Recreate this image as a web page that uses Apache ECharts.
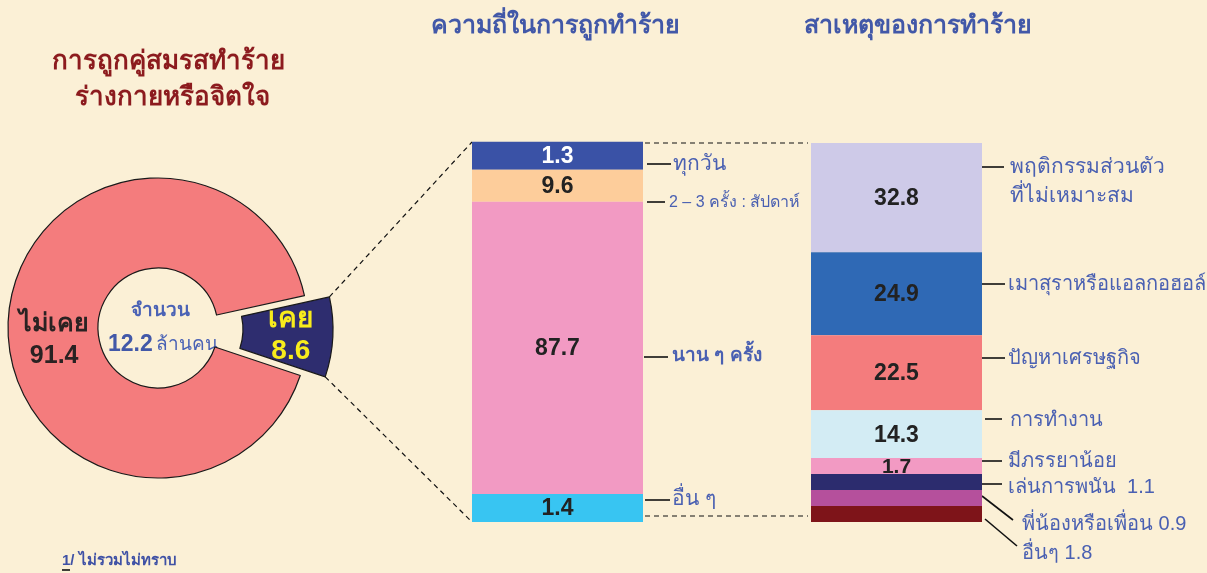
<!DOCTYPE html>
<html><head><meta charset="utf-8">
<script src="https://cdn.jsdelivr.net/npm/echarts@6/dist/echarts.min.js"></script>
<style>html,body{margin:0;padding:0;background:#FBF0D6;}#c{width:1207px;height:573px;}</style>
</head><body><div id="c"></div>
<script>
// ---- data ----
const donutNames = ['เคย', 'ไม่เคย'];
const donutValues = [8.6, 91.4];
const freqCats = ['ทุกวัน', '2 – 3 ครั้ง : สัปดาห์', 'นาน ๆ ครั้ง', 'อื่น ๆ'];
const freqValues = [1.3, 9.6, 87.7, 1.4];
const causeCats = ['พฤติกรรมส่วนตัว\nที่ไม่เหมาะสม', 'เมาสุราหรือแอลกอฮอล์', 'ปัญหาเศรษฐกิจ', 'การทำงาน', 'มีภรรยาน้อย', 'เล่นการพนัน', 'พี่น้องหรือเพื่อน', 'อื่นๆ'];
const causeValues = [32.8, 24.9, 22.5, 14.3, 1.7, 1.1, 0.9, 1.8];

// ---- styles ----
const FONT = '"Liberation Sans", Arial, "Noto Sans", sans-serif';
const freqColors = ['#3A52A6', '#FDCD9B', '#F29AC3', '#38C5F2'];
const freqLabelColors = ['#ffffff', '#222', '#222', '#222'];
const freqInside = [true, true, true, true];
const causeColors = ['#CECAE8', '#2F69B5', '#F47C7D', '#D3ECF4', '#F29AC3', '#2C2C6E', '#B5509C', '#7E1419'];
const causeLabelColors = causeColors.map(() => '#222');
const causeInside = [true, true, true, true, true, false, false, false];
const labelBlue = '#4A60B2';

const chart = echarts.init(document.getElementById('c'), null, {renderer: 'canvas'});

const pieCenter = [158, 328], pieR = [60, 150], pieOffset = 25;
const navyMid = -3;
const startAngle = navyMid + donutValues[0] / (donutValues[0] + donutValues[1]) * 360 / 2;

// stacked column drawn through the axis scales; small segments get a minimum pixel height
function stackColumn(vals, colors, labelColors, inside, gridIdx, minH, fs) {
  return {
    type: 'custom', coordinateSystem: 'cartesian2d', xAxisIndex: gridIdx, yAxisIndex: gridIdx,
    data: vals.map((v, i) => [0, v, i]),
    encode: {x: 0, y: 1},
    renderItem: function (params, api) {
      const i = params.dataIndex;
      const h = vals.map(v => Math.max(api.size([0, v])[1], minH));
      const base = api.coord([0, 0]);
      const bw = api.size([1, 0])[0];
      let below = 0;
      for (let j = i + 1; j < vals.length; j++) below += h[j];
      const yTop = base[1] - below - h[i];
      const children = [{
        type: 'rect', shape: {x: base[0] - bw / 2, y: yTop, width: bw, height: h[i]},
        style: {fill: colors[i]}
      }];
      if (inside[i]) {
        children.push({
          type: 'text', style: {text: String(vals[i]), x: base[0], y: yTop + h[i] / 2 + 1,
            align: 'center', verticalAlign: 'middle', fill: labelColors[i],
            fontFamily: FONT, fontWeight: 'bold', fontSize: h[i] < 20 ? 21 : fs}
        });
      }
      return {type: 'group', children: children};
    }
  };
}

const option = {
  backgroundColor: '#FBF0D6',
  animation: false,
  grid: [
    {left: 472, width: 171, top: 142, bottom: 51},
    {left: 811, width: 171, top: 142, bottom: 51}
  ],
  xAxis: [
    {type: 'category', gridIndex: 0, data: ['f'], show: false},
    {type: 'category', gridIndex: 1, data: ['c'], show: false}
  ],
  yAxis: [
    {type: 'value', gridIndex: 0, min: 0, max: 114, show: false},
    {type: 'value', gridIndex: 1, min: 0, max: 114, show: false}
  ],
  series: [
    {
      type: 'pie', center: pieCenter, radius: pieR, startAngle: startAngle, clockwise: true,
      selectedMode: 'single', selectedOffset: pieOffset,
      itemStyle: {borderColor: '#1a1a1a', borderWidth: 1.2},
      label: {position: 'inside', fontFamily: FONT, fontWeight: 'bold', lineHeight: 32},
      labelLine: {show: false},
      data: [
        {name: donutNames[0], value: donutValues[0], selected: true,
          itemStyle: {color: '#2E2D6F'},
          label: {formatter: '{b}\n{c}', color: '#F8EC1C', fontSize: 28, offset: [-4, 2]}},
        {name: donutNames[1], value: donutValues[1],
          itemStyle: {color: '#F47C7D'},
          label: {formatter: '{b}\n{c}', color: '#2a2222', fontSize: 25, offset: [4, 18]}}
      ]
    },
    stackColumn(freqValues, freqColors, freqLabelColors, freqInside, 0, 28, 23),
    stackColumn(causeValues, causeColors, causeLabelColors, causeInside, 1, 16, 23)
  ]
};
chart.setOption(option);

// ---- annotations ----
const g = [];
function text(x, y, t, o) {
  g.push({type: 'text', x: x, y: y, silent: true, style: Object.assign({text: t, fontFamily: FONT,
    fontSize: 20, fill: labelBlue, verticalAlign: 'middle', align: 'left'}, o || {})});
}
function line(x1, y1, x2, y2, dash) {
  g.push({type: 'line', silent: true, shape: {x1: x1, y1: y1, x2: x2, y2: y2},
    style: {stroke: '#111', lineWidth: dash ? 1.2 : 1.6, lineDash: dash ? [5, 4] : null}});
}
// titles
text(168, 62, 'การถูกคู่สมรสทำร้าย', {fontSize: 26, fontWeight: 'bold', fill: '#8C1B1E', align: 'center'});
text(172, 98, 'ร่างกายหรือจิตใจ', {fontSize: 26, fontWeight: 'bold', fill: '#8C1B1E', align: 'center'});
text(555, 26, 'ความถี่ในการถูกทำร้าย', {fontSize: 25, fontWeight: 'bold', fill: '#4258A8', align: 'center'});
text(918, 26, 'สาเหตุของการทำร้าย', {fontSize: 25, fontWeight: 'bold', fill: '#4258A8', align: 'center'});
// donut centre
text(160, 311, 'จำนวน', {fontSize: 19, fontWeight: 'bold', fill: '#4A62B5', align: 'center'});
g.push({type: 'text', x: 163, y: 345, silent: true, style: {
  rich: {a: {fontFamily: FONT, fontSize: 23, fontWeight: 'bold', fill: '#4258A8'},
         b: {fontFamily: FONT, fontSize: 19, fill: '#4A62B5'}},
  text: '{a|12.2} {b|ล้านคน}', align: 'center', verticalAlign: 'middle'}});
// footnote
text(62, 561, '1/ ไม่รวมไม่ทราบ', {fontSize: 15, fontWeight: 'bold', fill: '#3F51A5'});
line(62, 570, 70, 570);
// frequency labels
line(647, 164, 671, 164); text(673, 164, freqCats[0], {fontSize: 21});
line(647, 202, 665, 202); text(669, 203, freqCats[1], {fontSize: 16});
line(644, 357, 668, 357); text(672, 356, freqCats[2], {fontSize: 19, fontWeight: 'bold'});
line(645, 500, 670, 500); text(672, 499, freqCats[3], {fontSize: 21});
// cause labels
line(982, 167, 1004, 167); text(1010, 182, causeCats[0], {fontSize: 21, lineHeight: 29});
line(982, 284, 1005, 284); text(1008, 284, causeCats[1], {fontSize: 20});
line(982, 358, 1005, 358); text(1008, 358, causeCats[2], {fontSize: 20});
line(985, 419, 1002, 419); text(1010, 420, causeCats[3], {fontSize: 20});
line(982, 461, 1002, 461); text(1008, 461, causeCats[4], {fontSize: 20});
line(982, 484, 1002, 484); text(1008, 487, causeCats[5] + '  ' + causeValues[5], {fontSize: 20});
line(982, 496, 1013, 520); text(1022, 524, causeCats[6] + ' ' + causeValues[6], {fontSize: 20});
line(985, 519, 1017, 546); text(1022, 553, causeCats[7] + ' ' + causeValues[7], {fontSize: 20});
// connector dashed lines from exploded slice
const rad = Math.PI / 180;
const span = donutValues[0] / (donutValues[0] + donutValues[1]) * 360;
const off = [pieOffset * Math.cos(navyMid * rad), -pieOffset * Math.sin(navyMid * rad)];
const a1 = startAngle, a2 = startAngle - span;
const p1 = [pieCenter[0] + pieR[1] * Math.cos(a1 * rad) + off[0], pieCenter[1] - pieR[1] * Math.sin(a1 * rad) + off[1]];
const p2 = [pieCenter[0] + pieR[1] * Math.cos(a2 * rad) + off[0], pieCenter[1] - pieR[1] * Math.sin(a2 * rad) + off[1]];
line(p1[0], p1[1], 472, 142, true);
line(p2[0], p2[1], 472, 522, true);
line(645, 143, 808, 143, true);
line(645, 516, 808, 516, true);

chart.setOption({graphic: g});
</script></body></html>
